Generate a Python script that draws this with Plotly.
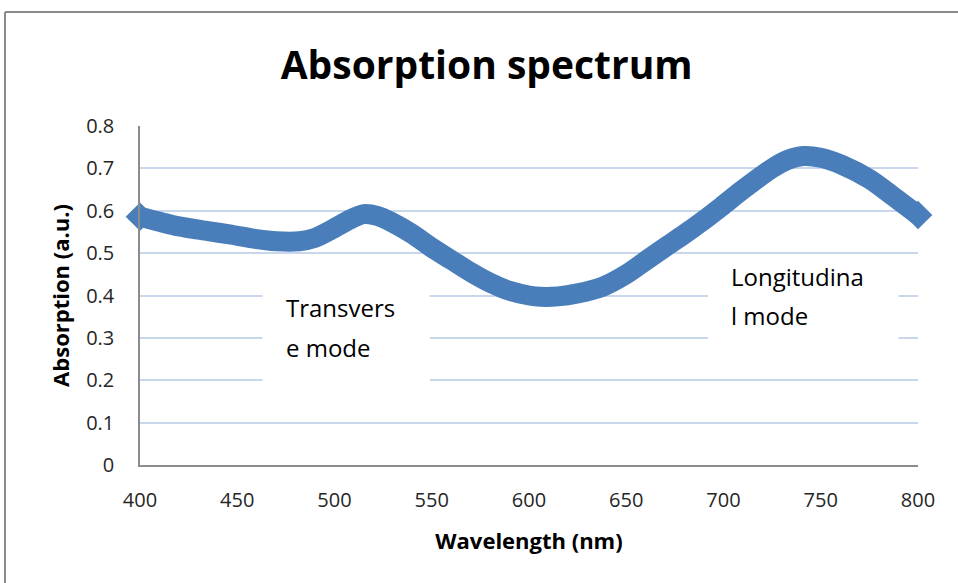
import plotly.graph_objects as go

wavelength = [400, 410, 420, 435, 446, 460, 470, 482, 490, 498, 507, 515, 522, 529,
              540, 549, 560, 570, 580, 590, 600, 606, 615, 625, 638, 650, 660, 670,
              680, 690, 699, 710, 725, 733, 741, 750, 761, 775, 787, 800]
absorption = [0.586, 0.574, 0.563, 0.552, 0.544, 0.533, 0.528, 0.528, 0.536, 0.554,
              0.577, 0.592, 0.588, 0.574, 0.545, 0.516, 0.484, 0.455, 0.43, 0.411,
              0.40, 0.397, 0.398, 0.405, 0.421, 0.45, 0.482, 0.514, 0.545, 0.578,
              0.61, 0.65, 0.700, 0.720, 0.729, 0.725, 0.708, 0.675, 0.635, 0.59]

x_ticks = [400, 450, 500, 550, 600, 650, 700, 750, 800]
y_ticks = [0, 0.1, 0.2, 0.3, 0.4, 0.5, 0.6, 0.7, 0.8]
y_tick_labels = ["0", "0.1", "0.2", "0.3", "0.4", "0.5", "0.6", "0.7", "0.8"]

BLUE = "#4a7ebb"
GRID = "#c9d7ed"
AXIS = "#8c8c8c"
FONT = "Open Sans"

fig = go.Figure()
fig.add_trace(go.Scatter(
    x=wavelength, y=absorption, mode="lines",
    line=dict(color=BLUE, width=20, shape="spline", smoothing=0.8),
    hoverinfo="skip", showlegend=False, cliponaxis=False,
))
fig.add_trace(go.Scatter(
    x=[wavelength[0], wavelength[-1]], y=[absorption[0], absorption[-1]], mode="markers",
    marker=dict(symbol="diamond", size=22, color=BLUE, opacity=1, line=dict(width=0)),
    hoverinfo="skip", showlegend=False, cliponaxis=False,
))

# white label boxes (covering gridlines)
fig.add_shape(type="rect", xref="x", yref="y", x0=463, x1=549, y0=0.185, y1=0.48,
              fillcolor="white", line=dict(width=0), layer="between")
fig.add_shape(type="rect", xref="x", yref="y", x0=692, x1=790, y0=0.297, y1=0.488,
              fillcolor="white", line=dict(width=0), layer="between")

# outer frame (top and left edges visible)
fig.add_shape(type="line", xref="paper", yref="paper", x0=-0.1735, x1=1.2, y0=1.336, y1=1.336,
              line=dict(color="#8a8a8a", width=2))
fig.add_shape(type="line", xref="paper", yref="paper", x0=-0.1735, x1=-0.1735, y0=-0.5, y1=1.336,
              line=dict(color="#8a8a8a", width=2))

ann_font = dict(family=FONT, size=24, color="#000000")
fig.add_annotation(x=474, y=0.372, xref="x", yref="y", text="Transvers", showarrow=False,
                   xanchor="left", yanchor="middle", font=ann_font)
fig.add_annotation(x=474, y=0.277, xref="x", yref="y", text="e mode", showarrow=False,
                   xanchor="left", yanchor="middle", font=ann_font)
fig.add_annotation(x=703, y=0.445, xref="x", yref="y", text="Longitudina", showarrow=False,
                   xanchor="left", yanchor="middle", font=ann_font)
fig.add_annotation(x=703, y=0.352, xref="x", yref="y", text="l mode", showarrow=False,
                   xanchor="left", yanchor="middle", font=ann_font)

fig.update_layout(
    width=958, height=583,
    margin=dict(l=140, r=40, t=126, b=118),
    paper_bgcolor="white", plot_bgcolor="white",
    title=dict(text="<b>Absorption spectrum</b>", x=0.508, xanchor="center", y=0.888,
               yanchor="middle", font=dict(family=FONT, size=39, color="#000000")),
    xaxis=dict(range=[400, 800], tickvals=x_ticks, showgrid=False,
               showline=True, linecolor=AXIS, linewidth=1.5, zeroline=False,
               ticks="outside", ticklen=16, tickcolor="rgba(0,0,0,0)",
               tickfont=dict(family=FONT, size=20, color="#262626"),
               title=dict(text="<b>Wavelength (nm)</b>", standoff=22,
                          font=dict(family=FONT, size=22, color="#000000"))),
    yaxis=dict(range=[0, 0.8], tickvals=y_ticks, ticktext=y_tick_labels,
               showgrid=True, gridcolor=GRID, gridwidth=2,
               showline=True, linecolor=AXIS, linewidth=1.5, zeroline=False,
               ticks="outside", ticklen=20, tickcolor="rgba(0,0,0,0)",
               tickfont=dict(family=FONT, size=20, color="#262626"),
               title=dict(text="<b>Absorption (a.u.)</b>", standoff=10,
                          font=dict(family=FONT, size=22, color="#000000"))),
)

fig.write_html("out.html")
